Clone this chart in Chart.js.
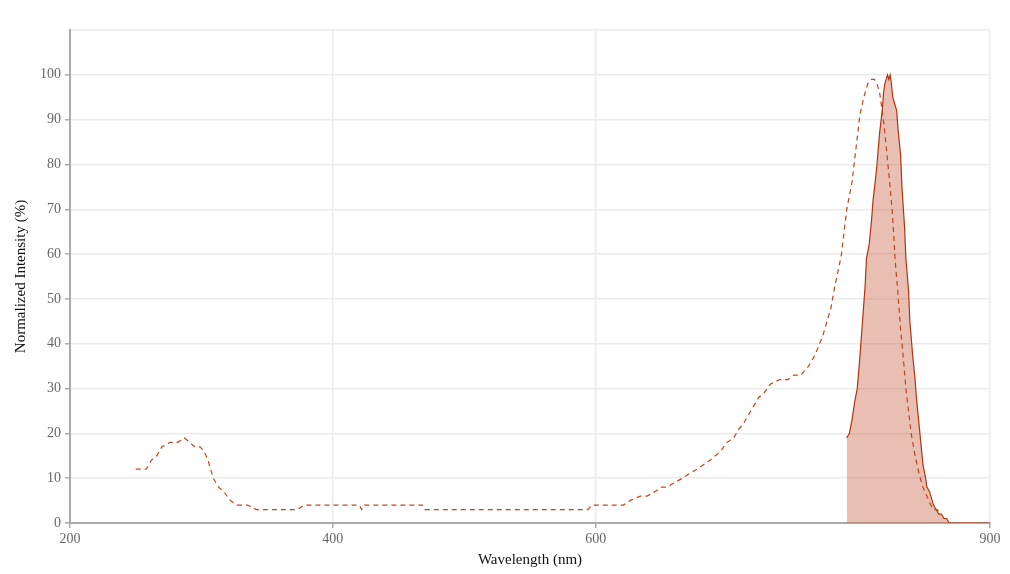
<!DOCTYPE html>
<html>
<head>
<meta charset="utf-8">
<script src="https://cdn.jsdelivr.net/npm/chart.js@4"></script>
<style>
  body { margin: 0; background: #fff; }
  #wrap { width: 1010px; height: 574px; }
</style>
</head>
<body>
<div id="wrap"><canvas id="js--chart"></canvas></div>
<script>
// absorption (dashed)
const absWl = [250, 258, 262, 266, 270, 276, 282, 287, 291, 295, 299, 302, 305, 309, 313, 317, 322, 327, 335, 342,
  373, 378, 420, 422, 424, 468, 470, 594, 597, 621, 626, 634, 639, 645, 650, 654, 660, 666, 671, 677, 682, 687,
  691, 695, 700, 705, 709, 712, 716, 720, 724, 728, 733, 740, 746, 751, 756, 762, 766, 769, 773, 776, 779, 782,
  785, 787, 789, 791, 793, 795, 797, 799, 801, 804, 807, 810, 812, 814, 816, 818, 820, 822, 824, 826, 828, 830,
  832, 834, 836, 838, 840, 843, 846, 849, 852, 855, 857, 860, 862];
const absVal = [12, 12, 14, 15, 17, 18, 18, 19, 18, 17, 17, 16, 14, 10, 8, 7, 5, 4, 4, 3,
  3, 4, 4, 3, 4, 4, 3, 3, 4, 4, 5, 6, 6, 7, 8, 8, 9, 10, 11, 12, 13, 14,
  15, 16, 18, 19, 21, 22, 24, 26, 28, 29, 31, 32, 32, 33, 33, 35, 37, 39, 42, 45, 48, 53,
  57, 60, 65, 70, 73, 76, 81, 86, 91, 95, 98, 99, 99, 98, 96, 92, 87, 81, 75, 68, 58, 51,
  43, 37, 30, 25, 20, 15, 11, 8, 6, 4, 3, 3, 2];

// emission (solid, filled)
const emWl = [791, 793, 795, 797, 799, 801, 803, 805, 806, 808, 810, 811, 813, 814, 816, 818, 819, 820, 822, 823,
  824, 825, 826, 827, 829, 830, 832, 833, 835, 836, 838, 839, 841, 843, 844, 846, 848, 849, 851, 852,
  854, 856, 857, 859, 861, 863, 865, 867, 869, 871, 900];
const emVal = [19, 20, 23, 27, 30, 37, 45, 53, 59, 62, 68, 72, 77, 80, 87, 92, 96, 98, 100, 99,
  100, 98, 95, 94, 92, 88, 82, 75, 66, 59, 52, 45, 38, 32, 28, 22, 16, 13, 10, 8,
  7, 5, 4, 3, 2, 2, 1, 1, 0, 0, 0];

const xTicks = [200, 400, 600, 900];
const yTicks = [0, 10, 20, 30, 40, 50, 60, 70, 80, 90, 100];

Chart.defaults.font.family = "'Liberation Serif', 'Times New Roman', serif";

function toPoints(xs, ys) {
  return xs.map(function (x, i) { return { x: x, y: ys[i] }; });
}

const data = {
  datasets: [
    {
      label: 'Absorption',
      data: toPoints(absWl, absVal),
      borderColor: '#c2441c',
      borderWidth: 1.2,
      borderDash: [5, 4],
      pointRadius: 0,
      fill: false,
      tension: 0
    },
    {
      label: 'Emission',
      data: toPoints(emWl, emVal),
      borderColor: '#b5330b',
      borderWidth: 1.2,
      backgroundColor: 'rgba(196, 88, 58, 0.38)',
      pointRadius: 0,
      fill: 'origin',
      tension: 0
    }
  ]
};

const config = {
  type: 'line',
  data: data,
  options: {
    responsive: true,
    maintainAspectRatio: false,
    animation: false,
    layout: { padding: { top: 30, right: 20, left: 0, bottom: 0 } },
    plugins: {
      legend: { display: false },
      tooltip: { enabled: false }
    },
    scales: {
      x: {
        type: 'linear',
        min: 200,
        max: 900,
        afterBuildTicks: function (axis) {
          axis.ticks = xTicks.map(function (v) { return { value: v }; });
        },
        afterFit: function (axis) { axis.height = 51; },
        grid: { color: '#ebebeb', lineWidth: 1.5, tickColor: '#aaa', tickLength: 5 },
        border: { color: '#aaa', width: 2 },
        ticks: { color: '#666', font: { size: 14 }, padding: 3, maxRotation: 0 },
        title: { display: true, text: 'Wavelength (nm)', color: '#111', font: { size: 15 }, padding: { top: 0, bottom: 5 } }
      },
      y: {
        min: 0,
        max: 110,
        afterBuildTicks: function (axis) {
          axis.ticks = yTicks.concat([110]).map(function (v) { return { value: v }; });
        },
        afterFit: function (axis) { axis.width = 70; },
        grid: {
          color: '#ebebeb',
          lineWidth: 1.5,
          tickLength: 5,
          // no tick mark on the top (110) line
          tickColor: function (ctx) { return ctx.tick && ctx.tick.value > 100 ? 'rgba(0,0,0,0)' : '#aaa'; }
        },
        border: { color: '#aaa', width: 2 },
        ticks: {
          color: '#666',
          font: { size: 14 },
          padding: 4,
          callback: function (v) { return v > 100 ? '' : v; }
        },
        title: { display: true, text: 'Normalized Intensity (%)', color: '#111', font: { size: 15 }, padding: { top: 12, bottom: 0 } }
      }
    }
  }
};

new Chart(document.getElementById('js--chart'), config);
</script>
</body>
</html>
